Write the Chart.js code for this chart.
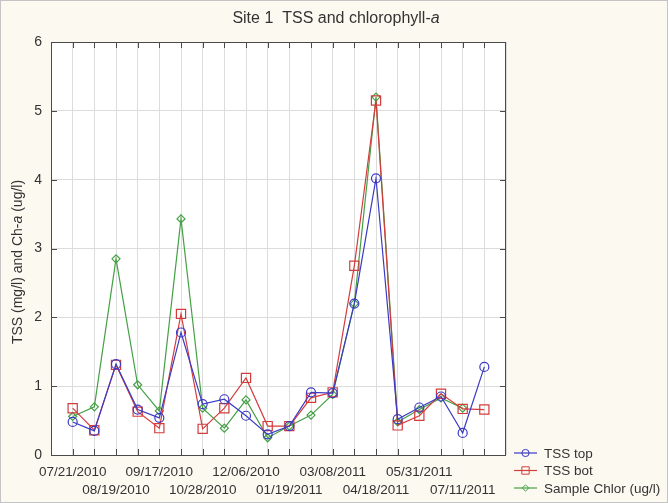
<!DOCTYPE html>
<html>
<head>
<meta charset="utf-8">
<script src="https://cdn.jsdelivr.net/npm/chart.js@4"></script>
<style>
  body { margin: 0; background: #fcf9f1; }
  canvas { display: block; }
</style>
</head>
<body>
<canvas id="siteChart" width="668" height="503"></canvas>
<script>
// tick labels shown under every second sample
const tickLabels = ['07/21/2010', '08/19/2010', '09/17/2010', '10/28/2010', '12/06/2010',
    '01/19/2011', '03/08/2011', '04/18/2011', '05/31/2011', '07/11/2011'];

const tssTop = [0.48, 0.35, 1.32, 0.66, 0.54, 1.78, 0.74, 0.81, 0.57, 0.30,
    0.42, 0.91, 0.90, 2.20, 4.02, 0.52, 0.69, 0.85, 0.32, 1.28];
const tssBot = [0.68, 0.36, 1.31, 0.63, 0.39, 2.05, 0.38, 0.68, 1.12, 0.42,
    0.42, 0.83, 0.91, 2.75, 5.15, 0.43, 0.57, 0.89, 0.67, 0.66];
const sampleChlor = [0.56, 0.70, 2.85, 1.02, 0.64, 3.43, 0.68, 0.39, 0.80, 0.25,
    0.42, 0.58, 0.88, 2.20, 5.20, 0.48, 0.66, 0.83, 0.68, null];

const FONT = "'Liberation Sans', Arial, sans-serif";
const TEXT = '#333333';

const toPoints = (values) => values.map((v, i) => ({ x: i, y: v }));

const frame = {
    id: 'frame',
    beforeDraw(chart) {
        const { ctx, chartArea: a, width, height } = chart;
        ctx.save();
        ctx.fillStyle = '#fcf9f1';
        ctx.fillRect(0, 0, width, height);
        ctx.strokeStyle = '#c4c4c4';
        ctx.strokeRect(0.5, 0.5, width - 1, height - 1);
        ctx.fillStyle = '#ffffff';
        ctx.fillRect(a.left, a.top, a.right - a.left, a.bottom - a.top);
        ctx.restore();
    },
    afterDraw(chart) {
        const { ctx, chartArea: a, scales } = chart;
        ctx.save();
        // plot border and inside ticks
        ctx.strokeStyle = '#4a4a4a';
        ctx.lineWidth = 1;
        ctx.strokeRect(Math.round(a.left) + 0.5, Math.round(a.top) + 0.5,
            Math.round(a.right - a.left) - 1, Math.round(a.bottom - a.top));
        ctx.beginPath();
        for (let i = 0; i < tssTop.length; i++) {
            const x = Math.round(scales.x.getPixelForValue(i)) + 0.5;
            ctx.moveTo(x, a.bottom); ctx.lineTo(x, a.bottom - 6);
            ctx.moveTo(x, a.top); ctx.lineTo(x, a.top + 6);
        }
        for (let v = 1; v < 6; v++) {
            const y = Math.round(scales.y.getPixelForValue(v)) + 0.5;
            ctx.moveTo(a.left, y); ctx.lineTo(a.left + 6, y);
            ctx.moveTo(a.right, y); ctx.lineTo(a.right - 6, y);
        }
        ctx.stroke();

        // title with italic a
        ctx.fillStyle = TEXT;
        ctx.textBaseline = 'middle';
        ctx.textAlign = 'left';
        const t1 = 'Site 1  TSS and chlorophyll-';
        ctx.font = '16px ' + FONT;
        const w1 = ctx.measureText(t1).width;
        ctx.font = 'italic 16px ' + FONT;
        const w2 = ctx.measureText('a').width;
        let tx = 336 - (w1 + w2) / 2;
        ctx.font = '16px ' + FONT;
        ctx.fillText(t1, tx, 19);
        ctx.font = 'italic 16px ' + FONT;
        ctx.fillText('a', tx + w1, 19);

        // y axis title
        ctx.save();
        ctx.translate(18, 262);
        ctx.rotate(-Math.PI / 2);
        const parts = [['TSS (mg/l) and Ch-', ''], ['a', 'italic '], [' (ug/l)', '']];
        let total = 0;
        parts.forEach(p => { ctx.font = p[1] + '14px ' + FONT; total += ctx.measureText(p[0]).width; });
        let px = -total / 2;
        parts.forEach(p => {
            ctx.font = p[1] + '14px ' + FONT;
            ctx.fillText(p[0], px, 0);
            px += ctx.measureText(p[0]).width;
        });
        ctx.restore();

        // legend
        const rows = [453, 470.5, 488];
        chart.data.datasets.forEach((ds, i) => {
            const y = rows[i];
            ctx.strokeStyle = ds.borderColor;
            ctx.lineWidth = 1.2;
            ctx.beginPath();
            ctx.moveTo(514, y); ctx.lineTo(537, y);
            ctx.stroke();
            ctx.fillStyle = 'rgba(255,255,255,0)';
            ctx.lineWidth = 1;
            Chart.helpers.drawPoint(ctx, {
                pointStyle: ds.pointStyle,
                radius: ds.pointRadius * 0.8,
                borderWidth: 1
            }, 525.5, y);
            ctx.fillStyle = TEXT;
            ctx.font = '13.5px ' + FONT;
            ctx.fillText(ds.label, 544, y + 1);
        });
        ctx.restore();
    }
};

const ctx = document.getElementById('siteChart').getContext('2d');
const siteChart = new Chart(ctx, {
    type: 'line',
    data: {
        datasets: [{
            label: 'TSS top',
            data: toPoints(tssTop),
            borderColor: '#3b3bc4',
            pointBorderColor: '#3b3bc4',
            pointBackgroundColor: 'rgba(255,255,255,0)',
            pointStyle: 'circle',
            pointRadius: 4.5,
            borderWidth: 1.2,
            tension: 0
        }, {
            label: 'TSS bot',
            data: toPoints(tssBot),
            borderColor: '#d43c3c',
            pointBorderColor: '#d43c3c',
            pointBackgroundColor: 'rgba(255,255,255,0)',
            pointStyle: 'rect',
            pointRadius: 6.5,
            borderWidth: 1.2,
            tension: 0
        }, {
            label: 'Sample Chlor (ug/l)',
            data: toPoints(sampleChlor),
            borderColor: '#45a045',
            pointBorderColor: '#45a045',
            pointBackgroundColor: 'rgba(255,255,255,0)',
            pointStyle: 'rectRot',
            pointRadius: 4,
            borderWidth: 1.2,
            tension: 0
        }]
    },
    options: {
        responsive: false,
        animation: false,
        devicePixelRatio: 1,
        layout: {
            padding: { top: 42, right: 162, bottom: 0, left: 0 }
        },
        plugins: {
            legend: { display: false },
            title: { display: false },
            tooltip: { enabled: false }
        },
        scales: {
            x: {
                type: 'linear',
                min: -1,
                max: 20,
                afterFit: (scale) => { scale.height = 48; },
                afterBuildTicks: (scale) => {
                    scale.ticks = [];
                    for (let v = -1; v <= 20; v++) scale.ticks.push({ value: v });
                },
                grid: { color: '#dcdcdc', drawTicks: false },
                border: { display: false },
                ticks: {
                    autoSkip: false,
                    maxRotation: 0,
                    minRotation: 0,
                    padding: 9,
                    color: TEXT,
                    font: { family: FONT, size: 13.5, lineHeight: 1.3 },
                    callback: (v) => {
                        if (v < 0 || v % 2 !== 0) return '';
                        const label = tickLabels[v / 2];
                        if (!label) return '';
                        return v % 4 === 0 ? [label, ''] : ['', label];
                    }
                }
            },
            y: {
                min: 0,
                max: 6,
                afterFit: (scale) => { scale.width = 51; },
                grid: { color: '#dcdcdc', drawTicks: false },
                border: { display: false },
                ticks: {
                    stepSize: 1,
                    padding: 9,
                    color: TEXT,
                    font: { family: FONT, size: 14 }
                }
            }
        }
    },
    plugins: [frame]
});
</script>
</body>
</html>
